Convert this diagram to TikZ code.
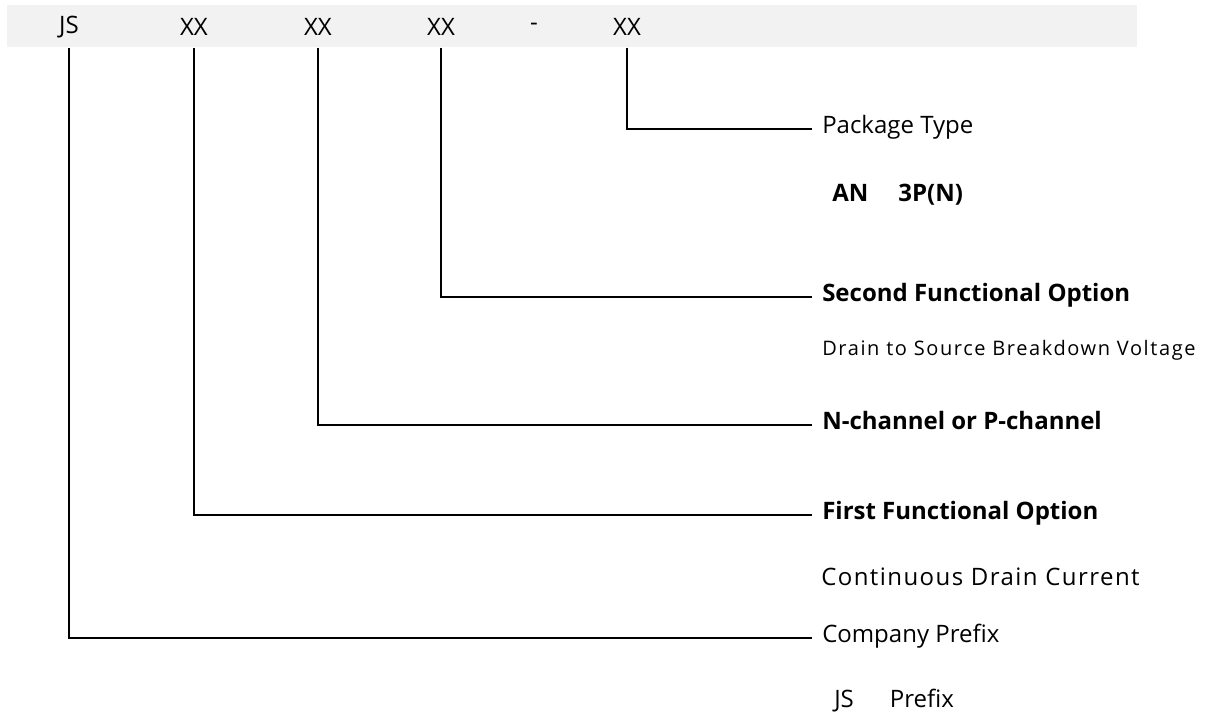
\documentclass[tikz,border=0pt]{standalone}
\usepackage{fontspec}
\setmainfont{Open Sans}
\newfontfamily\spaced[LetterSpace=8]{Open Sans}
\newfontfamily\spacedb[LetterSpace=6]{Open Sans}
\begin{document}
\begin{tikzpicture}[x=0.75pt,y=-0.75pt,
  code/.style={inner sep=0pt,font=\fontsize{18}{20}\selectfont},
  lbl/.style={anchor=west,inner xsep=7.5pt,inner ysep=0pt,text height=0.7em,text depth=0.1em,font=\fontsize{18}{20}\selectfont},
  blbl/.style={lbl,font=\fontsize{18}{20}\selectfont\bfseries},
  note/.style={anchor=west,inner sep=0pt,font=\fontsize{18}{20}\selectfont},
  conn/.style={line width=1.5pt,black}]
\useasboundingbox (0,0) rectangle (1208,717);
\node[fill={rgb,255:red,242;green,242;blue,242},minimum width=1130*0.75pt,minimum height=42*0.75pt,inner sep=0pt,anchor=north west] (band) at (7,5) {};
\node[code] (js) at (69,27) {JS};
\node[code] (x1) at (194,27) {XX};
\node[code] (x2) at (318,27) {XX};
\node[code] (x3) at (441,27) {XX};
\node[code] (dash) at (534,27) {-};
\node[code] (x4) at (627,27) {XX};
\node[lbl] (pkg) at (812,129) {Package Type};
\node[note,font=\fontsize{18}{20}\selectfont\bfseries] (an) at (832,195) {AN\hspace{1.25em}3P(N)};
\node[blbl] (second) at (812,297) {Second Functional Option};
\node[note,font=\fontsize{15}{17}\selectfont\spaced] (drain) at (822,350) {Drain to Source Breakdown Voltage};
\node[blbl] (nch) at (812,425) {N-channel or P-channel};
\node[blbl] (first) at (812,515) {First Functional Option};
\node[note,font=\fontsize{18}{20}\selectfont\spacedb] (cont) at (821,577) {Continuous Drain Current};
\node[lbl] (comp) at (812,638) {Company Prefix};
\node[note] (jsp) at (834,701) {JS\hspace{1.5em}Prefix};
\draw[conn] (js |- band.south) |- (comp.west);
\draw[conn] (x1 |- band.south) |- (first.west);
\draw[conn] (x2 |- band.south) |- (nch.west);
\draw[conn] (x3 |- band.south) |- (second.west);
\draw[conn] (x4 |- band.south) |- (pkg.west);
\end{tikzpicture}
\end{document}
